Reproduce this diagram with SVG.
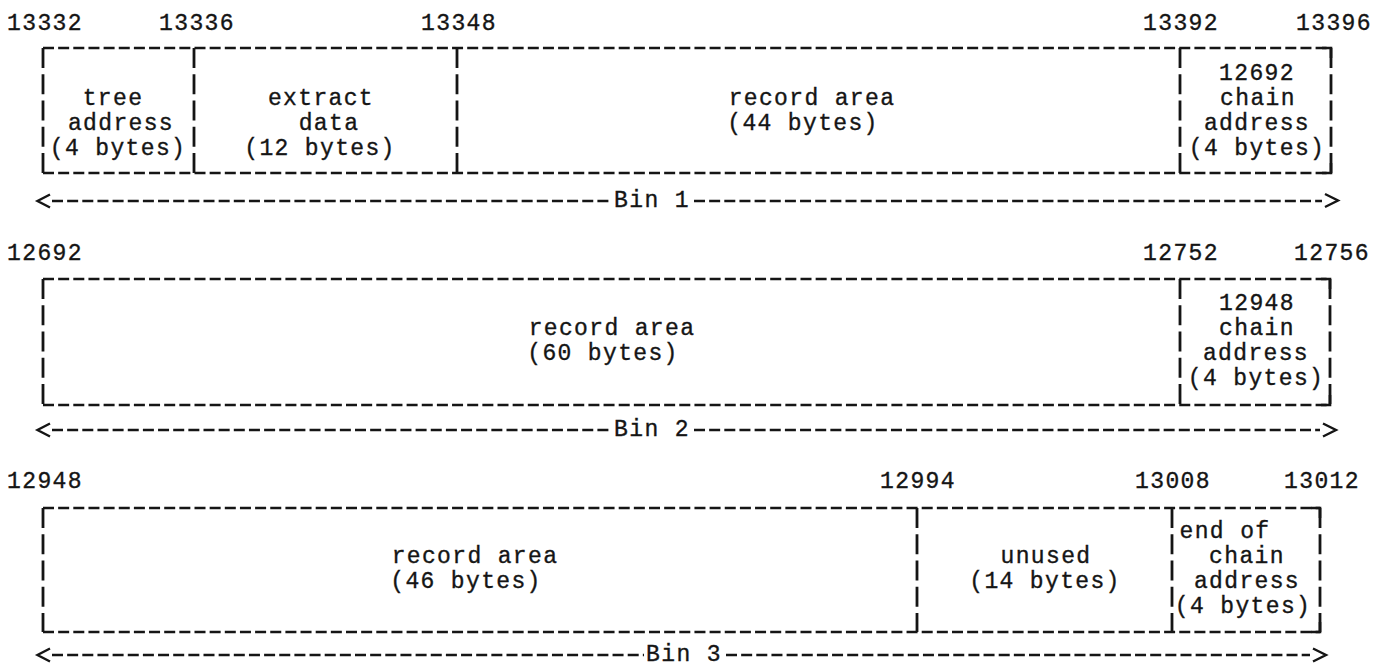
<svg xmlns="http://www.w3.org/2000/svg" width="1386" height="666" viewBox="0 0 1386 666">
<style>
.t{font-family:"Liberation Mono","DejaVu Sans Mono",monospace;font-size:23px;letter-spacing:1.35px;fill:#151515;stroke:#151515;stroke-width:0.35;text-anchor:middle}
.h{stroke:#151515;stroke-width:2.6;stroke-dasharray:11 4.15;fill:none}
.v{stroke:#151515;stroke-width:2.8;stroke-dasharray:20 6.25;fill:none}
.c{stroke:#151515;stroke-width:2.6;fill:none}
.a{stroke:#151515;stroke-width:2.4;fill:none;stroke-linejoin:miter}
</style>
<rect width="1386" height="666" fill="#ffffff"/>

<!-- Bin 1 -->
<g id="bin1">
  <g id="bin1-addresses">
    <text class="t" x="45" y="30">13332</text>
    <text class="t" x="197" y="30">13336</text>
    <text class="t" x="459" y="30">13348</text>
    <text class="t" x="1181" y="30">13392</text>
    <text class="t" x="1334" y="30">13396</text>
  </g>
  <g id="bin1-frame">
    <path class="h" d="M43,48 H1331 M43,173 H1331"/>
    <path class="v" d="M43,48 V173 M194,48 V173 M457,48 V173 M1180,48 V173 M1331,48 V173"/>
    <path class="c" d="M1322,48 H1331 V58 M1322,173 H1331 V163"/>
  </g>
  <g id="bin1-tree">
    <text class="t" x="113" y="105">tree</text>
    <text class="t" x="121" y="130">address</text>
    <text class="t" x="118" y="155">(4 bytes)</text>
  </g>
  <g id="bin1-extract">
    <text class="t" x="321" y="105">extract</text>
    <text class="t" x="329" y="130">data</text>
    <text class="t" x="320" y="155">(12 bytes)</text>
  </g>
  <g id="bin1-record">
    <text class="t" x="812" y="105">record area</text>
    <text class="t" x="803" y="130">(44 bytes)</text>
  </g>
  <g id="bin1-chain">
    <text class="t" x="1257" y="80">12692</text>
    <text class="t" x="1258" y="105">chain</text>
    <text class="t" x="1257" y="130">address</text>
    <text class="t" x="1257" y="155">(4 bytes)</text>
  </g>
  <text class="t" x="652" y="207">Bin 1</text>
</g>

<!-- Bin 2 -->
<g id="bin2">
  <g id="bin2-addresses">
    <text class="t" x="45" y="260">12692</text>
    <text class="t" x="1181" y="260">12752</text>
    <text class="t" x="1332" y="260">12756</text>
  </g>
  <g id="bin2-frame">
    <path class="h" d="M43,279 H1330 M43,405 H1330"/>
    <path class="v" d="M43,279 V405 M1180,279 V405 M1330,279 V405"/>
    <path class="c" d="M1321,279 H1330 V289 M1321,405 H1330 V395"/>
  </g>
  <g id="bin2-record">
    <text class="t" x="612" y="335">record area</text>
    <text class="t" x="603" y="360">(60 bytes)</text>
  </g>
  <g id="bin2-chain">
    <text class="t" x="1257" y="310">12948</text>
    <text class="t" x="1257" y="335">chain</text>
    <text class="t" x="1256" y="360">address</text>
    <text class="t" x="1256" y="385">(4 bytes)</text>
  </g>
  <text class="t" x="652" y="436">Bin 2</text>
</g>

<!-- Bin 3 -->
<g id="bin3">
  <g id="bin3-addresses">
    <text class="t" x="45" y="488">12948</text>
    <text class="t" x="918" y="488">12994</text>
    <text class="t" x="1173" y="488">13008</text>
    <text class="t" x="1322" y="488">13012</text>
  </g>
  <g id="bin3-frame">
    <path class="h" d="M43,508 H1320 M43,632 H1320"/>
    <path class="v" d="M43,508 V632 M917,508 V632 M1172,508 V632 M1320,508 V632"/>
    <path class="c" d="M1311,508 H1320 V518 M1311,632 H1320 V622"/>
  </g>
  <g id="bin3-record">
    <text class="t" x="475" y="563">record area</text>
    <text class="t" x="466" y="588">(46 bytes)</text>
  </g>
  <g id="bin3-unused">
    <text class="t" x="1046" y="563">unused</text>
    <text class="t" x="1045" y="588">(14 bytes)</text>
  </g>
  <g id="bin3-end">
    <text class="t" x="1225" y="538">end of</text>
    <text class="t" x="1247" y="563">chain</text>
    <text class="t" x="1247" y="588">address</text>
    <text class="t" x="1243" y="613">(4 bytes)</text>
  </g>
  <text class="t" x="684" y="661">Bin 3</text>
</g>

<!-- connectors: bin extent arrows -->
<g id="connectors">
  <path class="h" d="M52,201 H612 M694,201 H1322"/>
  <path class="a" d="M50,194.5 L37.5,201 L50,207.5 M1325,194 L1338,200.5 L1325,207"/>
  <path class="h" d="M52,430 H612 M694,430 H1320"/>
  <path class="a" d="M50,423.5 L37.5,430 L50,436.5 M1323,423.5 L1336,430 L1323,436.5"/>
  <path class="h" d="M52,655 H644 M726,655 H1310"/>
  <path class="a" d="M50,648.5 L37.5,655 L50,661.5 M1313,648.5 L1326,655 L1313,661.5"/>
</g>
</svg>
